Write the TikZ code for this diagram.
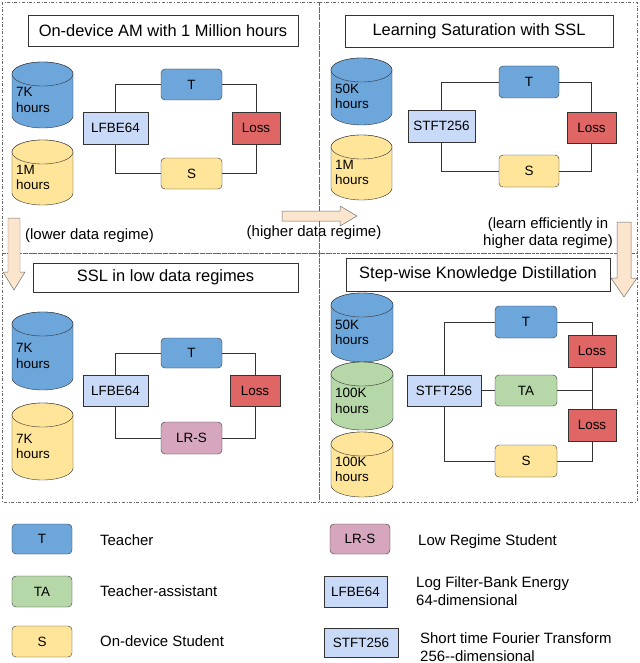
\documentclass[tikz,border=0pt]{standalone}
\usepackage{fontspec}
\setmainfont{Liberation Sans}
\definecolor{cb}{HTML}{6CA6DA}
\definecolor{cy}{HTML}{FFE599}
\definecolor{cg}{HTML}{B6D7A8}
\definecolor{cr}{HTML}{E06666}
\definecolor{cl}{HTML}{C9DAF8}
\definecolor{cp}{HTML}{D5A6BD}
\definecolor{ca}{HTML}{FCE5CD}
\definecolor{ln}{HTML}{333333}
\newcommand\dbcyl[7]{%
 \pgfmathsetmacro\cxa{(#1+#3)/2}\pgfmathsetmacro\rxa{(#3-#1)/2}
 \pgfmathsetmacro\ytop{#2+12}\pgfmathsetmacro\ybot{#4-12}\pgfmathsetmacro\ymid{(#2+#4)/2+5}
 \draw[draw=ln,fill=#5] (#1,\ytop) -- (#1,\ybot) arc (180:360:\rxa bp and 12bp) -- (#3,\ytop) arc (0:180:\rxa bp and 12bp) -- cycle;
 \draw[draw=ln,fill=#5] (\cxa,\ytop) ellipse (\rxa bp and 12bp);
 \node[anchor=west,align=left,font=\fontsize{13.5}{15.5}\selectfont,inner sep=0pt] (#7) at (#1+4,\ymid) {#6};}
\newcommand\bx[7]{%
 \pgfmathsetmacro\bw{#4-#2}\pgfmathsetmacro\bh{#5-#3}
 \node[#6,minimum width=\bw bp,minimum height=\bh bp] (#1) at ({(#2+#4)/2},{(#3+#5)/2}) {#7};}
\tikzset{
 rb/.style={draw=ln,rounded corners=4bp,inner sep=0pt,font=\fontsize{13.5}{15}\selectfont},
 sb/.style={draw=ln,inner sep=0pt,font=\fontsize{13.5}{15}\selectfont},
 ttl/.style={draw=ln,inner sep=0pt,font=\fontsize{16.5}{18}\selectfont},
 pan/.style={draw=gray!80!black,dash dot},
 con/.style={draw=ln,line width=0.6pt},
 lab/.style={font=\fontsize{15}{17.5}\selectfont,anchor=west,inner sep=0pt,align=left},
 blk/.style={draw=ln!70,fill=ca,line width=0.5pt}
}
\begin{document}
\begin{tikzpicture}[x=1bp,y=-1bp]
\useasboundingbox (0,0) rectangle (640,663);
\fill[white] (0,0) rectangle (640,663);
% panels
\draw[pan] (2,2) rectangle (319,253);
\draw[pan] (319,2) rectangle (637,253);
\draw[pan] (2,253) rectangle (319,502);
\draw[pan] (319,253) rectangle (637,502);
% ---- Q1
\bx{t1}{28}{15}{298}{46}{ttl}{On-device AM with 1 Million hours}
\dbcyl{12}{62}{73}{128}{cb}{7K\\hours}{c1a}
\dbcyl{12}{140}{73}{205}{cy}{1M\\hours}{c1b}
\bx{T1}{161}{69}{222}{100}{rb,fill=cb}{T}
\bx{F1}{83}{112}{148}{144}{sb,fill=cl}{LFBE64}
\bx{L1}{232}{112}{280}{144}{sb,fill=cr}{Loss}
\bx{S1}{161}{158}{222}{189}{rb,fill=cy}{S}
\draw[con] (F1.north) |- (T1.west);
\draw[con] (T1.east) -| (L1.north);
\draw[con] (F1.south) |- (S1.west);
\draw[con] (S1.east) -| (L1.south);
% ---- Q2
\bx{t2}{345}{15}{613}{47}{ttl}{Learning Saturation with SSL}
\dbcyl{331}{58}{392}{125}{cb}{50K\\hours}{c2a}
\dbcyl{331}{135}{392}{200}{cy}{1M\\hours}{c2b}
\bx{T2}{499}{66}{559}{98}{rb,fill=cb}{T}
\bx{F2}{408}{110}{475}{142}{sb,fill=cl}{STFT256}
\bx{L2}{567}{112}{616}{143}{sb,fill=cr}{Loss}
\bx{S2}{499}{155}{559}{187}{rb,fill=cy}{S}
\draw[con] (F2.north) |- (T2.west);
\draw[con] (T2.east) -| (L2.north);
\draw[con] (F2.south) |- (S2.west);
\draw[con] (S2.east) -| (L2.south);
% ---- arrows
\draw[blk] (8,218) -- (20,218) -- (20,272) -- (25,272) -- (14,290) -- (3,272) -- (8,272) -- cycle;
\node[lab] (a1) at (25,236) {(lower data regime)};
\draw[blk] (282,211) -- (340,211) -- (340,206) -- (357,216) -- (340,226) -- (340,221) -- (282,221) -- cycle;
\node[lab,anchor=center] (a2) at (314,233) {(higher data regime)};
\draw[blk] (617,222) -- (631,222) -- (631,278) -- (637,278) -- (624,297) -- (611,278) -- (617,278) -- cycle;
\node[lab,anchor=center,align=center] (a3) at (548,233) {(learn efficiently in\\higher data regime)};
% ---- Q3
\bx{t3}{33}{263}{298}{292}{ttl}{SSL in low data regimes}
\dbcyl{12}{312}{73}{390}{cb}{7K\\hours}{c3a}
\dbcyl{12}{403}{73}{480}{cy}{7K\\hours}{c3b}
\bx{T3}{161}{338}{222}{368}{rb,fill=cb}{T}
\bx{F3}{83}{375}{148}{406}{sb,fill=cl}{LFBE64}
\bx{L3}{230}{375}{280}{406}{sb,fill=cr}{Loss}
\bx{S3}{161}{422}{222}{454}{rb,fill=cp}{LR-S}
\draw[con] (F3.north) |- (T3.west);
\draw[con] (T3.east) -| (L3.north);
\draw[con] (F3.south) |- (S3.west);
\draw[con] (S3.east) -| (L3.south);
% ---- Q4
\bx{t4}{346}{258}{610}{291}{ttl}{Step-wise Knowledge Distillation}
\dbcyl{331}{293}{393}{362}{cb}{50K\\hours}{c4a}
\dbcyl{331}{362}{393}{430}{cg}{100K\\hours}{c4b}
\dbcyl{331}{432}{393}{497}{cy}{100K\\hours}{c4c}
\bx{T4}{495}{306}{557}{338}{rb,fill=cb}{T}
\bx{F4}{407}{375}{481}{406}{sb,fill=cl}{STFT256}
\bx{A4}{495}{375}{557}{406}{rb,fill=cg}{TA}
\bx{L4}{568}{335}{616}{367}{sb,fill=cr}{Loss}
\bx{M4}{568}{409}{616}{441}{sb,fill=cr}{Loss}
\bx{S4}{495}{445}{557}{477}{rb,fill=cy}{S}
\draw[con] (F4.north) |- (T4.west);
\draw[con] (T4.east) -| (L4.north);
\draw[con] (F4.east) -- (A4.west);
\draw[con] (A4.east) -| (M4.north);
\draw[con] (L4.south) -- (M4.north);
\draw[con] (F4.south) |- (S4.west);
\draw[con] (S4.east) -| (M4.south);
% ---- legend
\bx{gT}{12}{524}{72}{554}{rb,fill=cb}{T}
\node[lab] (gTl) at (100,540) {Teacher};
\bx{gA}{12}{576}{72}{607}{rb,fill=cg}{TA}
\node[lab] (gAl) at (100,591) {Teacher-assistant};
\bx{gS}{12}{626}{72}{657}{rb,fill=cy}{S}
\node[lab] (gSl) at (100,641) {On-device Student};
\bx{gR}{330}{524}{390}{554}{rb,fill=cp}{LR-S}
\node[lab] (gRl) at (418,542) {Low Regime Student};
\bx{gF}{324}{576}{387}{607}{sb,fill=cl}{LFBE64}
\node[lab] (gFl) at (416,591) {Log Filter-Bank Energy\\64-dimensional};
\bx{gM}{324}{628}{398}{657}{sb,fill=cl}{STFT256}
\node[lab] (gMl) at (420,647) {Short time Fourier Transform\\256{-}{-}dimensional};
\end{tikzpicture}
\end{document}
